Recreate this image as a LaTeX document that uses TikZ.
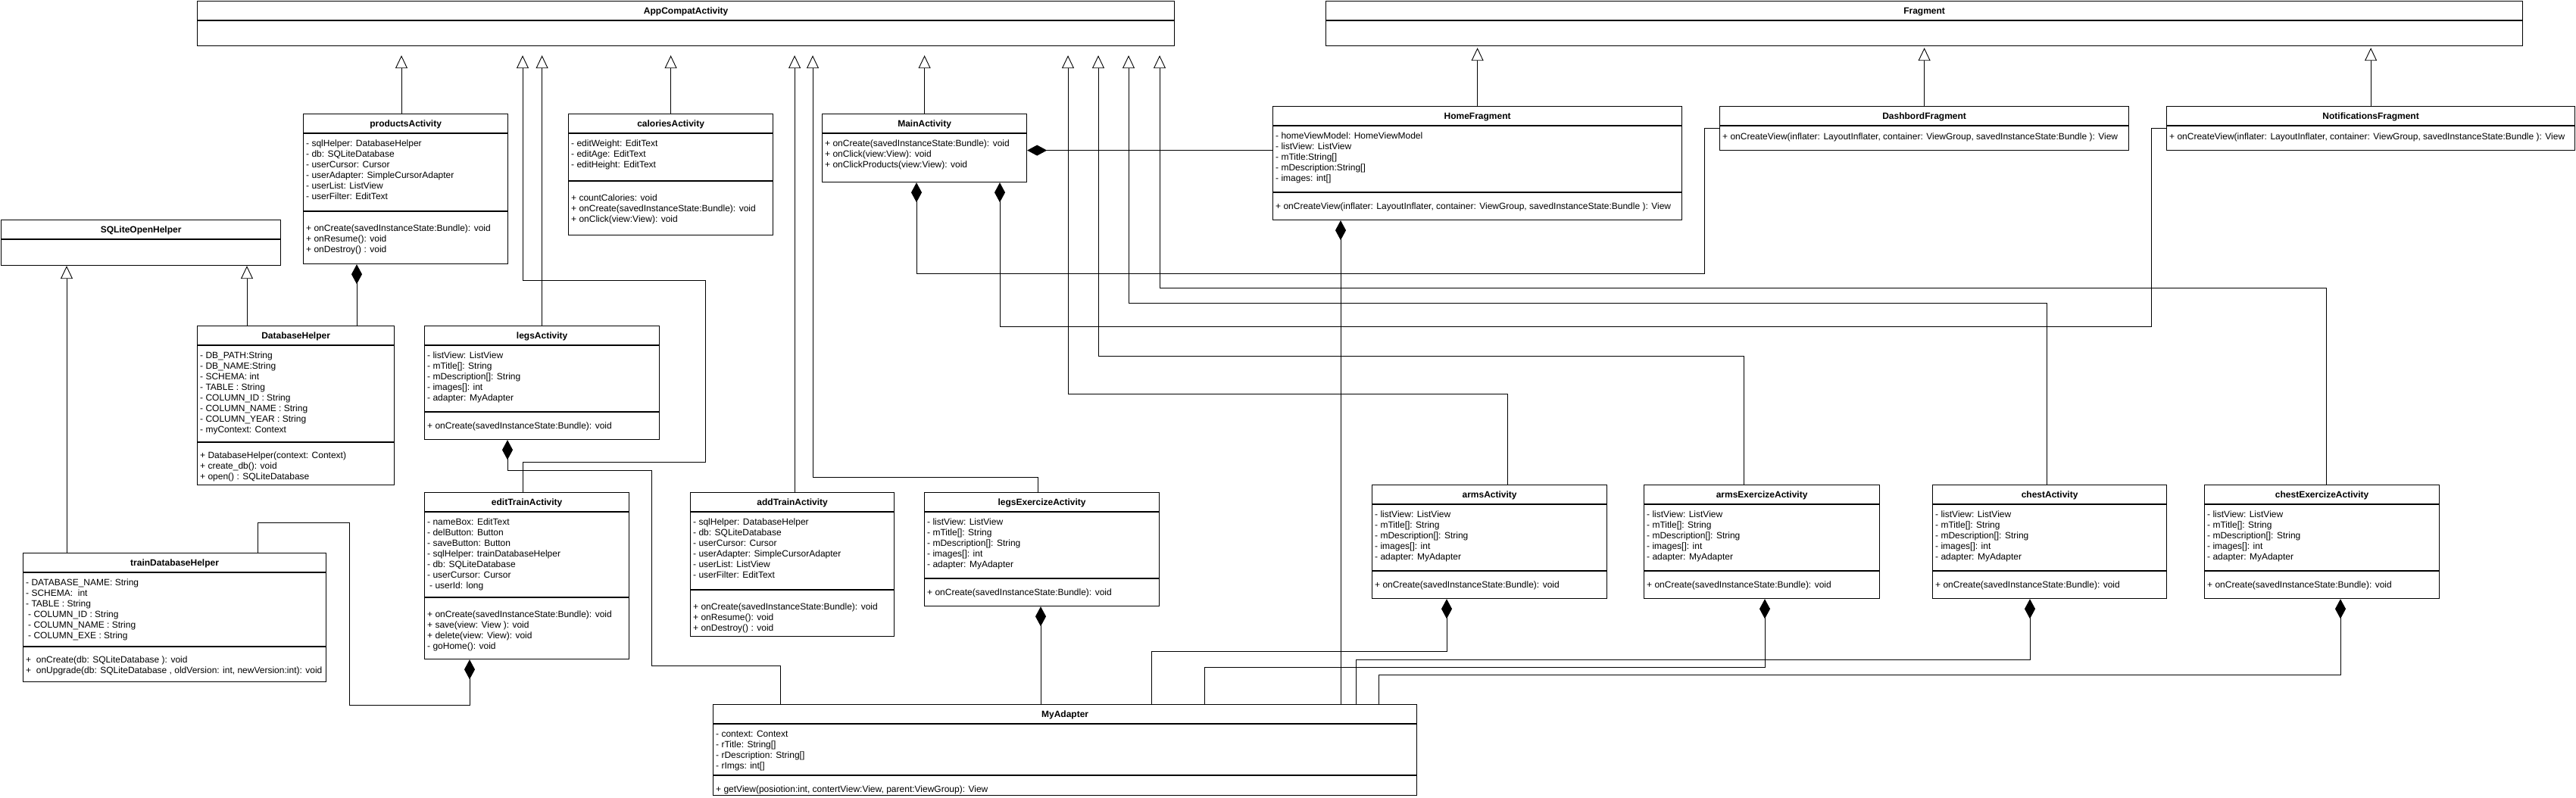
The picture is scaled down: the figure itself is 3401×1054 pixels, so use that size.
\documentclass[tikz,border=0pt]{standalone}
\usepackage{fontspec}
\setmainfont{Liberation Sans}
\usetikzlibrary{arrows.meta,calc}

\tikzset{
  classbox/.style={draw, line width=1.2pt, anchor=north west, inner sep=0pt},
  divider/.style={line width=1.2pt},
  classtitle/.style={font=\fontsize{12}{14}\selectfont\bfseries, inner sep=0pt, text height=8.6pt, text depth=0pt},
  members/.style={anchor=north west, inner sep=0pt, align=left, font=\fontsize{12}{14}\selectfont, execute at begin node=\strut},
  inherit/.style={draw, line width=0.9pt, -{Triangle[open, length=17pt, width=16pt]}},
  inheritgap/.style={inherit, shorten >=12pt},
  compose/.style={draw, line width=0.9pt, {Diamond[length=26pt, width=14pt]}-},
}

\newcommand{\umlclass}[6]{%
  \node[classbox, minimum width=#3pt, minimum height=#4pt] (#1) at (#2) {};
  \draw[divider] ($(#1.north west)+(0,26)$) -- ($(#1.north east)+(0,26)$);
  \node[classtitle] (#1-title) at ($(#1.north)+(0,13)$) {#5};
  \node[members] (#1-attrs) at ($(#1.north west)+(4,34.5)$) {#6};
}
\newcommand{\umlops}[4]{%
  \draw[divider] ($(#1.north west)+(0,#2)$) -- ($(#1.north east)+(0,#2)$);
  \node[members] (#1-ops) at ($(#1.north west)+(4,#3-5.5)$) {#4};
}
\newcommand{\exattrs}{- listView: ListView\\- mTitle[]: String\\- mDescription[]: String\\- images[]: int\\- adapter: MyAdapter}
\newcommand{\dbattrs}{- sqlHelper: DatabaseHelper\\- db: SQLiteDatabase\\- userCursor: Cursor\\- userAdapter: SimpleCursorAdapter\\- userList: ListView\\- userFilter: EditText}
\newcommand{\dbops}{+ onCreate(savedInstanceState:Bundle): void\\+ onResume(): void\\+ onDestroy() : void}
\newcommand{\createview}{+ onCreateView(inflater: LayoutInflater, container: ViewGroup, savedInstanceState:Bundle ): View}

\begin{document}
\begin{tikzpicture}[x=1pt, y=-1pt]
  \useasboundingbox (0,0) rectangle (3401,1054);

  \umlclass{app}{260,1}{1290}{59}{AppCompatActivity}{}
  \umlclass{frag}{1750,1}{1580}{59}{Fragment}{}
  \umlclass{sqlite}{1,290}{369}{60}{SQLiteOpenHelper}{}

  \umlclass{products}{400,150}{270}{198}{productsActivity}{\dbattrs}
  \umlops{products}{129}{152}{\dbops}
  \umlclass{calories}{750,150}{270}{160}{caloriesActivity}{- editWeight: EditText\\- editAge: EditText\\- editHeight: EditText}
  \umlops{calories}{89}{112}{+ countCalories: void\\+ onCreate(savedInstanceState:Bundle): void\\+ onClick(view:View): void}
  \umlclass{main}{1085,150}{270}{90}{MainActivity}{+ onCreate(savedInstanceState:Bundle): void\\+ onClick(view:View): void\\+ onClickProducts(view:View): void}

  \umlclass{home}{1680,140}{540}{150}{HomeFragment}{- homeViewModel: HomeViewModel\\- listView: ListView\\- mTitle:String[]\\- mDescription:String[]\\- images: int[]}
  \umlops{home}{114}{132}{\createview}
  \umlclass{dash}{2270,140}{540}{58}{DashbordFragment}{\createview}
  \umlclass{notif}{2860,140}{539}{58}{NotificationsFragment}{\createview}

  \umlclass{dbhelper}{260,430}{260}{210}{DatabaseHelper}{- DB\_PATH:String\\- DB\_NAME:String\\- SCHEMA: int\\- TABLE : String\\- COLUMN\_ID : String\\- COLUMN\_NAME : String\\- COLUMN\_YEAR : String\\- myContext: Context}
  \umlops{dbhelper}{154}{172}{+ DatabaseHelper(context: Context)\\+ create\_db(): void\\+ open() : SQLiteDatabase}
  \umlclass{legs}{560,430}{310}{150}{legsActivity}{\exattrs}
  \umlops{legs}{114}{132}{+ onCreate(savedInstanceState:Bundle): void}

  \umlclass{traindb}{30,730}{400}{170}{trainDatabaseHelper}{- DATABASE\_NAME: String\\- SCHEMA:\ \ int\\- TABLE : String\\\hspace{3pt}- COLUMN\_ID : String\\\hspace{3pt}- COLUMN\_NAME : String\\\hspace{3pt}- COLUMN\_EXE : String}
  \umlops{traindb}{124}{142}{+\ \ onCreate(db: SQLiteDatabase ): void\\+\ \ onUpgrade(db: SQLiteDatabase , oldVersion: int, newVersion:int): void}
  \umlclass{edittrain}{560,650}{270}{220}{editTrainActivity}{- nameBox: EditText\\- delButton: Button\\- saveButton: Button\\- sqlHelper: trainDatabaseHelper\\- db: SQLiteDatabase\\- userCursor: Cursor\\\hspace{3pt}- userId: long}
  \umlops{edittrain}{139}{162}{+ onCreate(savedInstanceState:Bundle): void\\+ save(view: View ): void\\+ delete(view: View): void\\- goHome(): void}
  \umlclass{addtrain}{911,650}{269}{190}{addTrainActivity}{\dbattrs}
  \umlops{addtrain}{129}{152}{\dbops}
  \umlclass{legsex}{1220,650}{310}{150}{legsExercizeActivity}{\exattrs}
  \umlops{legsex}{114}{132}{+ onCreate(savedInstanceState:Bundle): void}

  \umlclass{arms}{1811,640}{310}{150}{armsActivity}{\exattrs}
  \umlops{arms}{114}{132}{+ onCreate(savedInstanceState:Bundle): void}
  \umlclass{armsex}{2170,640}{311}{150}{armsExercizeActivity}{\exattrs}
  \umlops{armsex}{114}{132}{+ onCreate(savedInstanceState:Bundle): void}
  \umlclass{chest}{2551,640}{309}{150}{chestActivity}{\exattrs}
  \umlops{chest}{114}{132}{+ onCreate(savedInstanceState:Bundle): void}
  \umlclass{chestex}{2910,640}{310}{150}{chestExercizeActivity}{\exattrs}
  \umlops{chestex}{114}{132}{+ onCreate(savedInstanceState:Bundle): void}

  \umlclass{adapter}{941,930}{929}{120}{MyAdapter}{- context: Context\\- rTitle: String[]\\- rDescription: String[]\\- rImgs: int[]}
  \umlops{adapter}{94}{112}{+ getView(posiotion:int, contertView:View, parent:ViewGroup): View}

  % generalisation
  \draw[inheritgap] ($(products.north west)+(130,0)$) coordinate (c) -- (c |- app.south);
  \draw[inheritgap] (calories.north) -- (calories.north |- app.south);
  \draw[inheritgap] (main.north) -- (main.north |- app.south);
  \draw[inheritgap] (legs.north) -- (legs.north |- app.south);
  \draw[inheritgap] ($(edittrain.north west)+(130,0)$) coordinate (c) -- ++(0,-40)
    -| ($(legs.north east)+(60,-60)$) -| (c |- app.south);
  \draw[inheritgap] ($(addtrain.north)+(3,0)$) coordinate (c) -- (c |- app.south);
  \draw[inheritgap] ($(legsex.north)+(-5,0)$) -- ++(0,-20) -| ($(app.south west)+(813,0)$);
  \draw[inheritgap] ($(arms.north west)+(179,0)$) -- ++(0,-120) -| ($(app.south west)+(1150,0)$);
  \draw[inheritgap] ($(armsex.north west)+(132,0)$) -- ++(0,-170) -| ($(app.south west)+(1190,0)$);
  \draw[inheritgap] ($(chest.north west)+(151,0)$) -- ++(0,-240) -| ($(app.south west)+(1230,0)$);
  \draw[inheritgap] ($(chestex.north west)+(161,0)$) -- ++(0,-260) -| ($(app.south west)+(1271,0)$);
  \draw[inherit, shorten >=2pt] (home.north) -- (home.north |- frag.south);
  \draw[inherit, shorten >=2pt] (dash.north) -- (dash.north |- frag.south);
  \draw[inherit, shorten >=2pt] (notif.north) -- (notif.north |- frag.south);
  \draw[inherit] ($(dbhelper.north west)+(66,0)$) coordinate (c) -- (c |- sqlite.south);
  \draw[inherit] ($(traindb.north west)+(58,0)$) coordinate (c) -- (c |- sqlite.south);

  % composition
  \draw[compose] ($(products.south west)+(71,0)$) coordinate (c) -- (c |- dbhelper.north);
  \draw[compose] ($(edittrain.south west)+(60,0)$) -- ++(0,60)
    -| ($(traindb.north east)+(30,-40)$) -| ($(traindb.north west)+(310,0)$);
  \draw[compose] ($(main.east)+(0,3)$) coordinate (c) -- (c -| home.west);
  \draw[compose] ($(main.south west)+(125,0)$) -- ++(0,120) -| ($(dash.west)+(-20,0)$) -- (dash.west);
  \draw[compose] ($(main.south west)+(235,0)$) -- ++(0,190) -| ($(notif.west)+(-20,0)$) -- (notif.west);
  \draw[compose] ($(home.south west)+(90,0)$) coordinate (c) -- (c |- adapter.north);
  \draw[compose] ($(legs.south west)+(110,0)$) -- ++(0,40) -| ++(190,258) -| ($(adapter.north west)+(89,0)$);
  \draw[compose] ($(legsex.south west)+(154,0)$) coordinate (c) -- (c |- adapter.north);
  \draw[compose] ($(arms.south west)+(99,0)$) -- ++(0,69) -| ($(adapter.north west)+(579,0)$);
  \draw[compose] ($(armsex.south west)+(160,0)$) -- ++(0,90) -| ($(adapter.north west)+(649,0)$);
  \draw[compose] ($(chest.south west)+(129,0)$) -- ++(0,80) -| ($(adapter.north west)+(849,0)$);
  \draw[compose] ($(chestex.south west)+(180,0)$) -- ++(0,100) -| ($(adapter.north west)+(879,0)$);
\end{tikzpicture}
\end{document}
